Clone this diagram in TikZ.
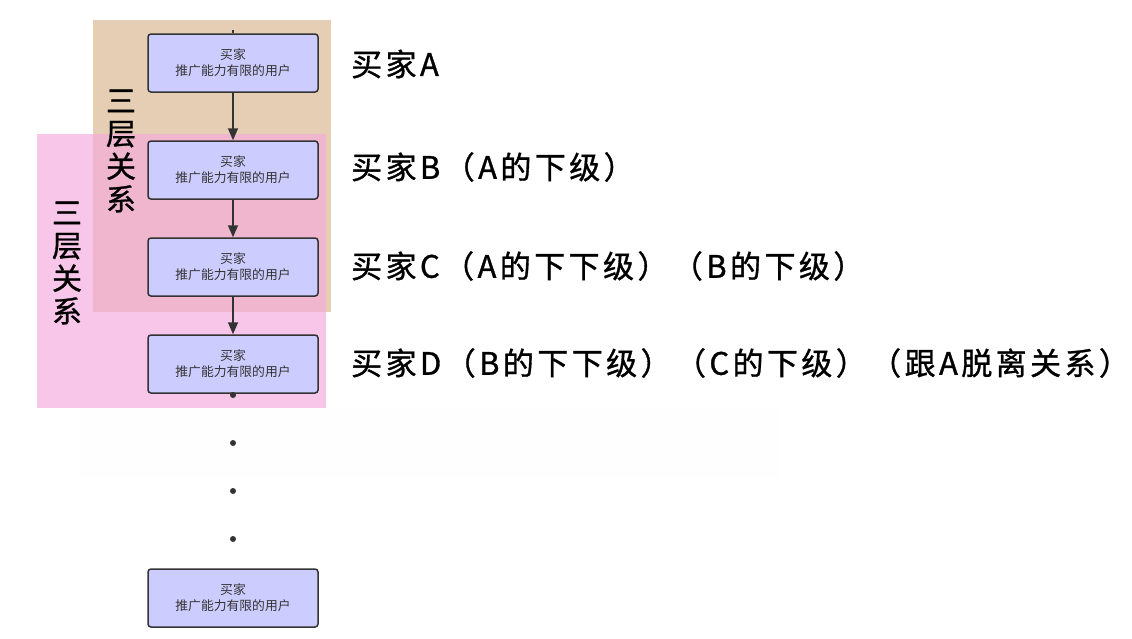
\documentclass[tikz,border=0pt]{standalone}
\usepackage{fontspec}
\setmainfont{Noto Sans CJK SC}
\newfontfamily\labelfont[LetterSpace=11,FakeBold=1]{Noto Sans CJK SC}
\newfontfamily\vertfont[FakeBold=1]{Noto Sans CJK SC}
\usetikzlibrary{arrows.meta}
\definecolor{tanbg}{HTML}{E6CEB4}
\definecolor{pinkbg}{HTML}{F8C6E8}
\definecolor{mixbg}{HTML}{EFB6CE}
\definecolor{nodefill}{HTML}{CCCCFF}
\definecolor{dark}{HTML}{333333}
\tikzset{
  buyer/.style={draw=dark, line width=1.5pt, fill=nodefill, rounded corners=3pt,
    minimum width=170pt, minimum height=58pt, inner sep=0pt, align=center,
    text=dark, font=\fontsize{12.8pt}{16pt}\selectfont},
  link/.style={draw=dark, line width=1.6pt, -{Triangle[length=12pt,width=10pt]}},
  label/.style={anchor=west, inner sep=0pt, font=\labelfont\fontsize{31pt}{33pt}\selectfont},
  vert/.style={align=center, inner sep=0pt, font=\vertfont\fontsize{30pt}{32.8pt}\selectfont},
  dot/.style={circle, fill=dark, inner sep=0pt, minimum size=6pt}
}
\begin{document}
\begin{tikzpicture}[x=1pt,y=-1pt]
\useasboundingbox (0,0) rectangle (1132,638);
\fill[white] (0,0) rectangle (1132,638);
\fill[black!0.5] (80,408) rectangle (780,478);
% group backgrounds
\fill[tanbg] (93,20) rectangle (331,312);
\fill[pinkbg] (37,134) rectangle (326,408);
\fill[mixbg] (93,134) rectangle (326,312);
% vertical labels
\node[vert] (v1) at (121,151) {三\\层\\关\\系};
\node[vert] (v2) at (67,263) {三\\层\\关\\系};
% nodes
\node[buyer] (n1) at (233,63) {买家\\推广能力有限的用户};
\node[buyer] (n2) at (233,170) {买家\\推广能力有限的用户};
\node[buyer] (n3) at (233,267) {买家\\推广能力有限的用户};
\node[buyer] (n4) at (233,364) {买家\\推广能力有限的用户};
\node[buyer] (n5) at (233,598) {买家\\推广能力有限的用户};
\coordinate (top) at (233,30);
\draw[dark, line width=1.5pt] (top) -- (n1.north);
\draw[link] (n1) -- (n2);
\draw[link] (n2) -- (n3);
\draw[link] (n3) -- (n4);
% dots
\node[dot] (d0) at (233,395) {};
\node[dot] (d1) at (233,443) {};
\node[dot] (d2) at (233,491) {};
\node[dot] (d3) at (233,539) {};
% right labels
\node[label] (la) at (351,64) {买家A};
\node[label] (lb) at (351,167) {买家B（A的下级）};
\node[label] (lc) at (351,266) {买家C（A的下下级）（B的下级）};
\node[label] (ld) at (351,363) {买家D（B的下下级）（C的下级）（跟A脱离关系）};
\end{tikzpicture}
\end{document}
